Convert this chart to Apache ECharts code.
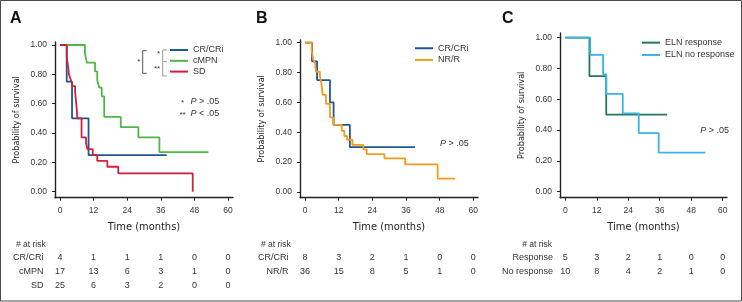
<!DOCTYPE html>
<html>
<head>
<meta charset="utf-8">
<script src="https://cdn.jsdelivr.net/npm/echarts@6/dist/echarts.min.js"></script>
<style>
  html, body { margin: 0; padding: 0; background: #fff; }
  #chart { width: 742px; height: 302px; }
</style>
</head>
<body>
<div id="chart"></div>
<script>
// axis ticks
const monthTicks = [0, 12, 24, 36, 48, 60];
const survTicks = [0, 0.2, 0.4, 0.6, 0.8, 1.0];

// panel A - survival by response group
const crTimeA = [0, 2.4, 4.3, 10.2, 38.1];
const crSurvA = [1, 0.75, 0.5, 0.25, 0.25];
const cmTimeA = [0, 8.9, 9.6, 12.5, 13.3, 14.0, 14.9, 15.8, 21.7, 28.0, 35.5, 53.0];
const cmSurvA = [1, 0.94, 0.88, 0.82, 0.76, 0.71, 0.65, 0.51, 0.44, 0.37, 0.27, 0.27];
const sdTimeA = [0, 2.4, 2.7, 3.0, 3.2, 3.9, 4.5, 5.4, 6.0, 6.2, 7.7, 9.3, 9.8, 11.7, 13.3, 16.9, 20.8, 47.4];
const sdSurvA = [1, 0.92, 0.88, 0.84, 0.80, 0.76, 0.72, 0.68, 0.56, 0.50, 0.37, 0.33, 0.29, 0.25, 0.21, 0.17, 0.125, 0];

// panel B
const crTimeB = [0, 2.5, 4.3, 8.9, 10.2, 16.0, 39.2];
const crSurvB = [1, 0.875, 0.75, 0.6, 0.45, 0.3, 0.3];
const nrTimeB = [0, 2.4, 2.9, 3.6, 3.9, 5.3, 5.9, 6.3, 7.5, 8.9, 10.1, 13.1, 14.0, 15.0, 16.9, 20.8, 22.0, 28.3, 35.7, 47.3, 53.5];
const nrSurvB = [1, 0.944, 0.889, 0.861, 0.806, 0.778, 0.722, 0.65, 0.59, 0.50, 0.45, 0.41, 0.375, 0.35, 0.315, 0.286, 0.254, 0.225, 0.185, 0.09, 0.09];

// panel C
const rTimeC = [0, 9.2, 15.6, 38.8];
const rSurvC = [1, 0.75, 0.5, 0.5];
const nTimeC = [0, 9.5, 14.4, 15.6, 21.9, 28.0, 35.6, 53.4];
const nSurvC = [1, 0.889, 0.762, 0.635, 0.508, 0.381, 0.254, 0.254];

// numbers at risk (at 0, 12, 24, 36, 48, 60 months)
const riskCrA = [4, 1, 1, 1, 0, 0];
const riskCmA = [17, 13, 6, 3, 1, 0];
const riskSdA = [25, 6, 3, 2, 0, 0];
const riskCrB = [8, 3, 2, 1, 0, 0];
const riskNrB = [36, 15, 8, 5, 1, 0];
const riskRC = [5, 3, 2, 1, 0, 0];
const riskNC = [10, 8, 4, 2, 1, 0];

const txt = '#333';
const sans = '"Liberation Sans", Arial, sans-serif';
const narrow = '"Liberation Sans Narrow", "DejaVu Sans Condensed", sans-serif';

// pixel frame of each panel: axis ends and where 0/60 months and 0/1 fall
const panels = [
  { left: 55, right: 233, top: 42, bottom: 197.7, x0: 60, x60: 228, y1: 45, y0: 191.7 },
  { left: 300, right: 478, top: 40, bottom: 197.7, x0: 305, x60: 473.3, y1: 42.7, y0: 192 },
  { left: 560, right: 727, top: 33, bottom: 197.7, x0: 565.3, x60: 722.7, y1: 37.7, y0: 191.7 }
];

const zip = (t, s) => t.map((v, i) => [v, s[i]]);

const grids = [], xAxes = [], yAxes = [];
panels.forEach((p, i) => {
  const pxM = (p.x60 - p.x0) / 60;
  const pxU = p.y0 - p.y1;
  grids.push({ left: p.left, top: p.top, width: p.right - p.left, height: p.bottom - p.top, outerBoundsMode: 'none' });
  xAxes.push({
    type: 'value', gridIndex: i,
    min: (p.left - p.x0) / pxM, max: (p.right - p.x0) / pxM,
    axisLine: { show: true, onZero: false, lineStyle: { color: '#222', width: 1.4 } },
    axisTick: { show: true, customValues: monthTicks, length: 3, lineStyle: { color: '#222', width: 1 } },
    axisLabel: { customValues: monthTicks, margin: 8, fontSize: 8.5, color: txt, fontFamily: sans },
    splitLine: { show: false },
    name: 'Time (months)', nameLocation: 'middle', nameGap: 24,
    nameTextStyle: { fontSize: 11, color: '#222', fontFamily: narrow }
  });
  yAxes.push({
    type: 'value', gridIndex: i,
    min: (p.y0 - p.bottom) / pxU, max: (p.y0 - p.top) / pxU,
    axisLine: { show: true, onZero: false, lineStyle: { color: '#222', width: 1.4 } },
    axisTick: { show: true, customValues: survTicks, length: 3, lineStyle: { color: '#222', width: 1 } },
    axisLabel: { customValues: survTicks, margin: 8, fontSize: 8.5, color: txt, fontFamily: sans,
      formatter: v => v.toFixed(2) },
    splitLine: { show: false },
    name: 'Probability of survival', nameLocation: 'middle', nameGap: 34, nameRotate: 90,
    nameTextStyle: { fontSize: 9, color: '#222', fontFamily: narrow }
  });
});

function km(name, idx, t, s, color) {
  return {
    name: name, type: 'line', xAxisIndex: idx, yAxisIndex: idx,
    step: 'end', symbol: 'none', data: zip(t, s),
    lineStyle: { color: color, width: 1.8 }, itemStyle: { color: color },
    emphasis: { disabled: true }
  };
}

const blue = '#1f5796', green = '#4db847', red = '#d21f3c';
const orange = '#f59b1c', teal = '#24785a', sky = '#39b3e6';

const series = [
  km('CR/CRi', 0, crTimeA, crSurvA, blue),
  km('cMPN', 0, cmTimeA, cmSurvA, green),
  km('SD', 0, sdTimeA, sdSurvA, red),
  km('CR/CRi', 1, crTimeB, crSurvB, blue),
  km('NR/R', 1, nrTimeB, nrSurvB, orange),
  km('ELN response', 2, rTimeC, rSurvC, teal),
  km('ELN no response', 2, nTimeC, nSurvC, sky)
];

function leg(names, left, top, lh) {
  return {
    data: names, left: left, top: top, orient: 'vertical', padding: 0,
    icon: 'rect', itemWidth: 18, itemHeight: 2, itemGap: 0, selectedMode: false,
    textStyle: { fontSize: 9, lineHeight: lh, color: txt, fontFamily: sans }
  };
}

const chart = echarts.init(document.getElementById('chart'), null, { renderer: 'canvas' });

function t(text, x, y, opt) {
  opt = opt || {};
  return {
    type: 'text', x: x, y: y, silent: true,
    style: Object.assign({
      text: text, fill: opt.fill || txt,
      fontSize: opt.size || 9, fontFamily: opt.family || sans,
      fontWeight: opt.weight || 'normal',
      align: opt.align || 'left', textAlign: opt.align || 'left',
      verticalAlign: 'middle', textVerticalAlign: 'middle'
    }, opt.rich ? { rich: opt.rich } : {})
  };
}
function seg(pts, color) {
  return { type: 'polyline', silent: true, shape: { points: pts }, style: { stroke: color, lineWidth: 1, fill: null } };
}

const ital = { i: { fontStyle: 'italic', fontSize: 9, fontFamily: sans, fill: txt } };

chart.setOption({
  animation: false,
  grid: grids, xAxis: xAxes, yAxis: yAxes, series: series,
  legend: [
    leg(['CR/CRi', 'cMPN', 'SD'], 170, 44.6, 10.8),
    leg(['CR/CRi', 'NR/R'], 415, 42.4, 11.7),
    leg(['ELN response', 'ELN no response'], 642, 36.5, 12.3)
  ]
});

// risk table, placed under each axis through its scale
const riskTables = [
  { idx: 0, names: ['CR/CRi', 'cMPN', 'SD'], rows: [riskCrA, riskCmA, riskSdA], labelX: 43.5, headX: 16, headAlign: 'left' },
  { idx: 1, names: ['CR/CRi', 'NR/R'], rows: [riskCrB, riskNrB], labelX: 288.5, headX: 261, headAlign: 'left' },
  { idx: 2, names: ['Response', 'No response'], rows: [riskRC, riskNC], labelX: 553, headX: 552, headAlign: 'right' }
];

const g = [
  { type: 'rect', silent: true, shape: { x: 0.5, y: 0.5, width: 741, height: 300.5 }, style: { fill: null, stroke: '#4a4a4a', lineWidth: 1 } },
  t('A', 10, 19, { size: 16, weight: 'bold', fill: '#111' }),
  t('B', 256, 19, { size: 16, weight: 'bold', fill: '#111' }),
  t('C', 502, 19, { size: 16, weight: 'bold', fill: '#111' }),
  // comparison brackets, panel A
  seg([[146.7, 50.7], [142.7, 50.7], [142.7, 73.3], [146.7, 73.3]], '#555'),
  t('*', 137.3, 62, { size: 8 }),
  seg([[167, 50], [162.7, 50], [162.7, 76], [167, 76]], '#999'),
  seg([[162.7, 61.7], [167, 61.7]], '#999'),
  t('*', 157, 54, { size: 8 }),
  t('**', 154, 69, { size: 8 }),
  t('*', 181, 103, { size: 8 }),
  t('{i|P} > .05', 190.5, 101.7, { rich: ital }),
  t('**', 179.5, 115, { size: 8 }),
  t('{i|P} < .05', 190.5, 113.3, { rich: ital }),
  t('{i|P} > .05', 440, 143.3, { rich: ital }),
  t('{i|P} > .05', 729, 130.7, { rich: ital, align: 'right' })
];

riskTables.forEach(rt => {
  g.push(t('# at risk', rt.headX, 244.3, { align: rt.headAlign, size: 8.5 }));
  rt.rows.forEach((row, r) => {
    const y = 257.7 + r * 14;
    g.push(t(rt.names[r], rt.labelX, y, { align: 'right' }));
    row.forEach((n, k) => {
      const px = chart.convertToPixel({ xAxisIndex: rt.idx }, monthTicks[k]);
      g.push(t(String(n), px, y, { align: 'center' }));
    });
  });
});

chart.setOption({ graphic: g });
</script>
</body>
</html>
